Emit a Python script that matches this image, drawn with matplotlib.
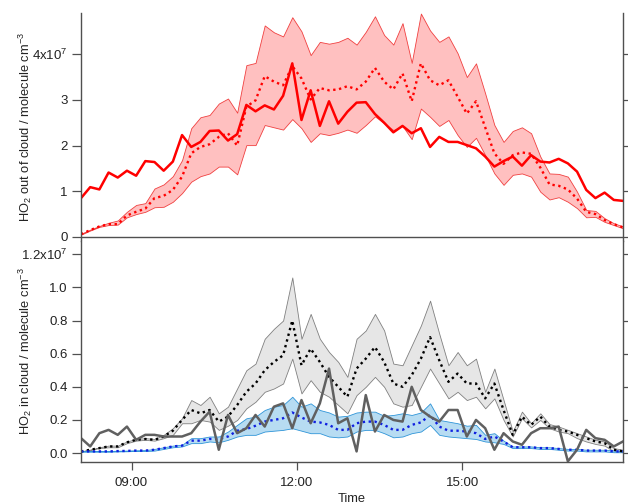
import numpy as np
import pandas as pd
import matplotlib
matplotlib.use('Agg')
import matplotlib.pyplot as plt
import matplotlib.dates as mdates
from matplotlib.ticker import FixedLocator, FixedFormatter

plt.rcParams['font.family'] = ['Liberation Sans', 'DejaVu Sans']
plt.rcParams['mathtext.fontset'] = 'custom'
plt.rcParams['mathtext.rm'] = 'Liberation Sans'
plt.rcParams['mathtext.default'] = 'regular'

# 10 minute time stamps, 08:05 - 17:55
time = pd.date_range('2000-01-01 08:05', periods=60, freq='10min')

# out of cloud HO2 (x1e7 molecule cm-3)
out_obs = [0.85, 1.09, 1.04, 1.41, 1.30, 1.45, 1.34, 1.66, 1.64, 1.45,
           1.65, 2.23, 1.97, 2.08, 2.32, 2.33, 2.11, 2.25, 2.89, 2.75,
           2.88, 2.79, 3.09, 3.80, 2.56, 3.21, 2.43, 2.97, 2.48, 2.74,
           2.94, 2.95, 2.69, 2.50, 2.29, 2.43, 2.27, 2.38, 1.97, 2.19,
           2.08, 2.08, 2.01, 1.94, 1.76, 1.54, 1.66, 1.76, 1.56, 1.79,
           1.65, 1.63, 1.71, 1.61, 1.43, 1.03, 0.85, 0.97, 0.81, 0.79]
out_mod = [0.06, 0.15, 0.23, 0.28, 0.28, 0.47, 0.55, 0.62, 0.85, 0.90,
           1.03, 1.32, 1.83, 1.97, 2.03, 2.19, 2.27, 2.00, 2.85, 2.99,
           3.52, 3.40, 3.32, 3.74, 3.47, 3.01, 3.26, 3.21, 3.23, 3.30,
           3.23, 3.40, 3.70, 3.40, 3.23, 3.58, 2.97, 3.80, 3.43, 3.32,
           3.43, 3.07, 2.70, 2.97, 2.40, 1.83, 1.60, 1.79, 1.85, 1.82,
           1.52, 1.15, 1.12, 1.04, 0.84, 0.55, 0.50, 0.37, 0.28, 0.21]
out_hi = [0.07, 0.16, 0.24, 0.31, 0.36, 0.55, 0.70, 0.74, 1.06, 1.15,
          1.33, 1.68, 2.38, 2.62, 2.67, 2.92, 3.03, 2.72, 3.76, 3.81,
          4.63, 4.48, 4.39, 4.81, 4.50, 3.98, 4.27, 4.23, 4.27, 4.36,
          4.21, 4.49, 4.83, 4.42, 4.21, 4.68, 3.81, 4.89, 4.52, 4.27,
          4.39, 4.02, 3.50, 3.80, 3.14, 2.45, 2.08, 2.32, 2.40, 2.27,
          1.76, 1.39, 1.38, 1.32, 0.99, 0.59, 0.57, 0.41, 0.30, 0.23]
out_lo = [0.05, 0.14, 0.22, 0.26, 0.27, 0.43, 0.50, 0.55, 0.65, 0.66,
          0.77, 0.96, 1.21, 1.33, 1.39, 1.54, 1.54, 1.37, 2.01, 2.01,
          2.45, 2.40, 2.35, 2.58, 2.38, 2.08, 2.27, 2.23, 2.28, 2.35,
          2.28, 2.45, 2.64, 2.49, 2.34, 2.43, 2.14, 2.81, 2.63, 2.43,
          2.56, 2.23, 1.97, 2.17, 1.79, 1.39, 1.14, 1.36, 1.39, 1.32,
          0.99, 0.82, 0.87, 0.77, 0.63, 0.43, 0.44, 0.33, 0.26, 0.19]

# in cloud HO2 (x1e7 molecule cm-3)
in_obs = [0.09, 0.04, 0.12, 0.14, 0.11, 0.16, 0.08, 0.11, 0.11, 0.10,
          0.10, 0.10, 0.12, 0.19, 0.25, 0.02, 0.23, 0.12, 0.15, 0.23,
          0.16, 0.28, 0.30, 0.15, 0.32, 0.18, 0.30, 0.51, 0.18, 0.21,
          0.01, 0.35, 0.13, 0.23, 0.20, 0.19, 0.40, 0.26, 0.22, 0.19,
          0.26, 0.26, 0.10, 0.20, 0.15, 0.02, 0.12, 0.07, 0.05, 0.12,
          0.15, 0.15, 0.16, -0.05, 0.02, 0.14, 0.09, 0.08, 0.04, 0.07]
in_mod = [0.01, 0.02, 0.03, 0.04, 0.04, 0.065, 0.08, 0.085, 0.08, 0.10,
          0.135, 0.20, 0.26, 0.24, 0.26, 0.19, 0.22, 0.29, 0.37, 0.42,
          0.50, 0.55, 0.59, 0.80, 0.53, 0.63, 0.55, 0.46, 0.40, 0.34,
          0.51, 0.57, 0.64, 0.55, 0.42, 0.40, 0.47, 0.57, 0.70, 0.56,
          0.43, 0.48, 0.42, 0.42, 0.33, 0.42, 0.26, 0.11, 0.22, 0.17,
          0.22, 0.16, 0.14, 0.13, 0.11, 0.09, 0.07, 0.06, 0.02, 0.01]
in_hi = [0.01, 0.02, 0.035, 0.045, 0.045, 0.07, 0.085, 0.09, 0.085, 0.11,
         0.15, 0.21, 0.32, 0.29, 0.34, 0.24, 0.28, 0.39, 0.50, 0.54,
         0.69, 0.75, 0.80, 1.06, 0.69, 0.84, 0.69, 0.61, 0.55, 0.46,
         0.69, 0.74, 0.84, 0.74, 0.54, 0.53, 0.65, 0.77, 0.92, 0.72,
         0.53, 0.61, 0.53, 0.57, 0.37, 0.51, 0.32, 0.13, 0.25, 0.18,
         0.24, 0.175, 0.16, 0.14, 0.12, 0.10, 0.08, 0.07, 0.03, 0.02]
in_lo = [0.01, 0.02, 0.03, 0.035, 0.035, 0.06, 0.075, 0.08, 0.075, 0.09,
         0.11, 0.18, 0.18, 0.20, 0.19, 0.14, 0.165, 0.20, 0.27, 0.31,
         0.37, 0.39, 0.42, 0.57, 0.36, 0.44, 0.37, 0.34, 0.29, 0.24,
         0.35, 0.40, 0.46, 0.40, 0.30, 0.28, 0.29, 0.40, 0.51, 0.42,
         0.33, 0.37, 0.32, 0.34, 0.27, 0.33, 0.20, 0.10, 0.21, 0.155,
         0.20, 0.15, 0.13, 0.12, 0.09, 0.07, 0.055, 0.045, 0.01, 0.005]
aq_mod = [0.01, 0.01, 0.01, 0.01, 0.012, 0.013, 0.015, 0.015, 0.02, 0.03,
          0.04, 0.045, 0.075, 0.075, 0.085, 0.085, 0.10, 0.135, 0.145, 0.165,
          0.19, 0.20, 0.21, 0.245, 0.215, 0.19, 0.185, 0.17, 0.14, 0.14,
          0.18, 0.19, 0.19, 0.17, 0.14, 0.14, 0.17, 0.185, 0.23, 0.16,
          0.135, 0.135, 0.13, 0.12, 0.085, 0.10, 0.07, 0.035, 0.035, 0.035,
          0.03, 0.03, 0.025, 0.02, 0.02, 0.015, 0.015, 0.015, 0.01, 0.01]
aq_hi = [0.01, 0.01, 0.01, 0.012, 0.014, 0.015, 0.017, 0.018, 0.025, 0.035,
         0.045, 0.05, 0.09, 0.09, 0.10, 0.10, 0.13, 0.17, 0.21, 0.22,
         0.26, 0.28, 0.29, 0.34, 0.28, 0.30, 0.26, 0.245, 0.22, 0.225,
         0.245, 0.25, 0.25, 0.225, 0.23, 0.24, 0.23, 0.245, 0.30, 0.20,
         0.19, 0.18, 0.165, 0.17, 0.11, 0.12, 0.075, 0.04, 0.04, 0.04,
         0.035, 0.035, 0.03, 0.025, 0.025, 0.02, 0.02, 0.02, 0.015, 0.015]
aq_lo = [0.01, 0.01, 0.01, 0.008, 0.01, 0.011, 0.013, 0.012, 0.015, 0.025,
         0.035, 0.04, 0.06, 0.06, 0.07, 0.065, 0.08, 0.10, 0.11, 0.11,
         0.13, 0.135, 0.14, 0.15, 0.135, 0.12, 0.12, 0.10, 0.095, 0.10,
         0.13, 0.14, 0.14, 0.12, 0.095, 0.10, 0.12, 0.13, 0.17, 0.11,
         0.10, 0.095, 0.09, 0.085, 0.07, 0.065, 0.055, 0.03, 0.03, 0.03,
         0.025, 0.025, 0.02, 0.015, 0.015, 0.01, 0.01, 0.01, 0.005, 0.005]

top_ticks = [0, 1, 2, 3, 4]
top_labels = ['0', '1', '2', '3', r'4x10$^{7}$']
bot_ticks = [0.0, 0.2, 0.4, 0.6, 0.8, 1.0, 1.2]
bot_labels = ['0.0', '0.2', '0.4', '0.6', '0.8', '1.0', r'1.2x10$^{7}$']

axc = '#505050'
txc = '#222222'
dot = (0, (1, 1.5))

fig = plt.figure(figsize=(6.28, 5.04), dpi=100)
ax1 = fig.add_axes([0.129, 0.522, 0.863, 0.452])
ax2 = fig.add_axes([0.129, 0.0833, 0.863, 0.4385])

# top panel
ax1.fill_between(time, out_lo, out_hi, facecolor='#ffc0c0', edgecolor='#f04040', lw=0.6)
ax1.plot(time, out_mod, color='red', ls=dot, lw=1.7)
ax1.plot(time, out_obs, color='red', lw=1.8)
ax1.axhline(0, color=axc, lw=1.0)
ax1.set_ylim(-0.087, 4.9)
ax1.set_ylabel(r'HO$_2$ out of cloud / molecule cm$^{-3}$', fontsize=9.3, color=txc)

# bottom panel
ax2.fill_between(time, in_lo, in_hi, facecolor='#e6e6e6', edgecolor='#808080', lw=0.6)
ax2.fill_between(time, aq_lo, aq_hi, facecolor='#b7dcf2', edgecolor='#2f95d8', lw=0.6)
ax2.plot(time, in_mod, color='black', ls=dot, lw=1.7)
ax2.plot(time, aq_mod, color='#1020e0', ls=dot, lw=1.7)
ax2.plot(time, in_obs, color='#606060', lw=1.8)
ax2.set_ylim(-0.054, 1.28)
ax2.set_ylabel(r'HO$_2$ in cloud / molecule cm$^{-3}$', fontsize=9.3, color=txc)
ax2.set_xlabel('Time', fontsize=9.3, color=txc)

for ax, tk, lb in [(ax1, top_ticks, top_labels), (ax2, bot_ticks, bot_labels)]:
    ax.set_xlim(time[0], time[-1])
    ax.yaxis.set_major_locator(FixedLocator(tk))
    ax.yaxis.set_major_formatter(FixedFormatter(lb))
    ax.tick_params(axis='y', direction='out', length=6.5, width=0.9,
                   color=axc, labelcolor=txc, labelsize=9.5, pad=3,
                   right=True, labelright=False)
    for s in ['left', 'right']:
        ax.spines[s].set_color(axc)
        ax.spines[s].set_linewidth(1.0)
    ax.yaxis.set_label_coords(-0.087, 0.5)

ax1.spines['bottom'].set_visible(False)
ax1.spines['top'].set_visible(False)
ax1.tick_params(axis='x', bottom=False, labelbottom=False)
ax2.spines['top'].set_visible(False)
ax2.spines['bottom'].set_color(axc)
ax2.spines['bottom'].set_linewidth(1.0)
ax2.xaxis.set_major_locator(mdates.HourLocator(byhour=[9, 12, 15]))
ax2.xaxis.set_major_formatter(mdates.DateFormatter('%H:%M'))
ax2.tick_params(axis='x', direction='out', length=6, width=0.9, color=axc,
                labelcolor=txc, labelsize=9.5, pad=5)
ax2.xaxis.set_label_coords(0.5, -0.14)

fig.savefig('out.png', dpi=100)
